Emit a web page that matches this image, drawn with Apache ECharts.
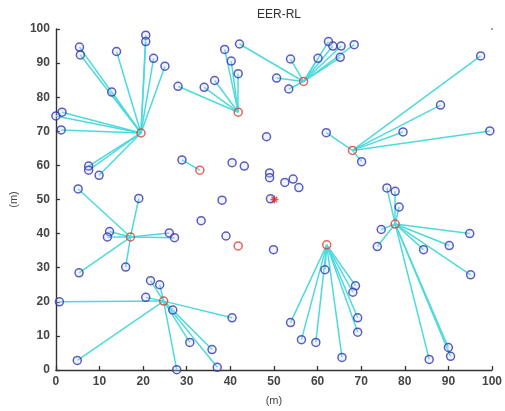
<!DOCTYPE html>
<html>
<head>
<meta charset="utf-8">
<script src="https://cdn.jsdelivr.net/npm/echarts@6/dist/echarts.min.js"></script>
<style>
  html, body { margin: 0; padding: 0; background: #fff; }
  #chart { width: 505px; height: 411px; }
</style>
</head>
<body>
<div id="chart"></div>
<script>
// Cluster heads (red circles) in metres
const clusterHeads = [
  [19.5, 69.5], [41.8, 75.6], [33.0, 58.6], [56.8, 84.6], [68.0, 64.4],
  [17.1, 39.0], [24.7, 20.2], [41.8, 36.4], [62.1, 36.7], [77.8, 42.8]
];

// Member nodes of each cluster, same order as clusterHeads
const members0 = [[5.4, 94.7], [5.6, 92.4], [13.9, 93.4], [12.8, 81.5], [20.6, 98.2], [20.6, 96.3],
  [22.4, 91.4], [25.0, 89.1], [1.4, 75.6], [0.0, 74.5], [1.2, 70.4], [7.5, 59.8], [7.5, 58.6], [9.9, 57.1]];
const members1 = [[28.0, 83.2], [34.0, 82.9], [36.4, 84.9], [38.7, 94.0], [40.2, 90.6], [41.8, 86.9]];
const members2 = [[28.9, 61.6]];
const members3 = [[53.8, 91.2], [50.6, 85.6], [53.4, 82.4], [60.1, 91.4], [62.5, 96.3], [63.5, 95.0],
  [65.4, 95.0], [65.2, 91.7], [68.4, 95.4], [42.1, 95.6]];
const members4 = [[97.4, 92.1], [88.2, 77.7], [79.6, 69.8], [99.5, 70.1], [62.0, 69.6], [70.1, 61.1]];
const members5 = [[5.1, 53.1], [19.0, 50.3], [12.3, 40.6], [11.8, 39.0], [26.0, 40.2], [27.2, 38.8],
  [16.0, 30.2], [5.3, 28.5]];
const members6 = [[0.8, 20.0], [20.6, 21.3], [21.7, 26.2], [23.8, 25.0], [26.8, 17.6], [30.7, 8.1],
  [35.8, 6.0], [37.0, 0.8], [27.7, 0.1], [4.9, 2.8], [40.4, 15.3]];
const members7 = [];
const members8 = [[61.7, 29.4], [68.7, 24.7], [68.1, 22.8], [69.2, 15.3], [69.2, 11.1], [53.8, 13.9],
  [56.3, 8.9], [59.6, 8.1], [65.6, 3.7]];
const members9 = [[78.7, 47.8], [75.9, 53.4], [77.8, 52.4], [74.6, 41.2], [73.7, 36.2], [84.3, 35.3],
  [90.2, 36.5], [94.9, 40.0], [95.1, 27.9], [90.0, 6.6], [90.5, 4.0], [85.6, 3.1]];

// Nodes that are not attached to any head
const freeNodes = [[40.4, 60.8], [43.2, 59.8], [38.1, 49.8], [48.3, 68.4], [49.0, 57.8], [49.0, 56.4],
  [52.5, 55.0], [54.4, 56.0], [55.7, 53.5], [49.2, 50.2], [33.3, 43.8], [39.0, 39.3], [49.9, 35.3]];

// Base station
const sink = [[50.1, 50.0]];
const cornerDot = [[100, 100]];

const memberGroups = [members0, members1, members2, members3, members4,
  members5, members6, members7, members8, members9];

const links = [];
const nodes = [];
memberGroups.forEach((group, i) => {
  group.forEach(p => {
    links.push({ coords: [p, clusterHeads[i]] });
    nodes.push(p);
  });
});
freeNodes.forEach(p => nodes.push(p));

const chart = echarts.init(document.getElementById('chart'), null, { renderer: 'canvas' });

const fontFamily = 'Liberation Sans, Arial, sans-serif';
const axisCommon = {
  type: 'value',
  min: 0,
  max: 100,
  interval: 10,
  splitLine: { show: false },
  axisLine: { show: true, onZero: false, lineStyle: { color: '#333333', width: 1.4 } },
  axisTick: { show: true, inside: true, length: 4, lineStyle: { color: '#333333', width: 1.3 } },
  axisLabel: { color: '#454545', fontSize: 12, fontWeight: 'bold', fontFamily: fontFamily, margin: 6 },
  nameTextStyle: { color: '#454545', fontSize: 11, fontFamily: fontFamily }
};

chart.setOption({
  animation: false,
  backgroundColor: '#ffffff',
  title: {
    text: 'EER-RL',
    left: 274,
    top: 4,
    textAlign: 'center',
    textStyle: { color: '#303030', fontSize: 12, fontWeight: 'normal', fontFamily: fontFamily }
  },
  grid: { left: 55, right: 11, top: 29, bottom: 36 },
  xAxis: Object.assign({}, axisCommon, {
    name: '(m)', nameLocation: 'middle', nameGap: 25
  }),
  yAxis: Object.assign({}, axisCommon, {
    name: '(m)', nameLocation: 'middle', nameGap: 35, nameRotate: 90
  }),
  series: [
    {
      type: 'lines',
      coordinateSystem: 'cartesian2d',
      data: links,
      silent: true,
      lineStyle: { color: '#4edadd', width: 1.5, opacity: 1 },
      z: 1
    },
    {
      type: 'scatter',
      data: nodes,
      symbol: 'circle',
      symbolSize: 8,
      itemStyle: { color: 'rgba(200,215,255,0.35)', borderColor: '#3535b0', borderWidth: 1.5 },
      z: 2
    },
    {
      type: 'scatter',
      data: clusterHeads,
      symbol: 'circle',
      symbolSize: 8,
      itemStyle: { color: 'rgba(255,255,255,0)', borderColor: '#e23a30', borderWidth: 1.5 },
      z: 3
    },
    {
      type: 'scatter',
      data: sink,
      symbol: 'path://M0,-5L0,5M-5,0L5,0M-3.5,-3.5L3.5,3.5M-3.5,3.5L3.5,-3.5',
      symbolSize: 8,
      itemStyle: { color: 'none', borderColor: '#e02020', borderWidth: 1.3 },
      z: 4
    },
    {
      type: 'scatter',
      data: cornerDot,
      symbol: 'circle',
      symbolSize: 2,
      itemStyle: { color: '#3a7a50' },
      z: 4
    }
  ]
});
</script>
</body>
</html>
